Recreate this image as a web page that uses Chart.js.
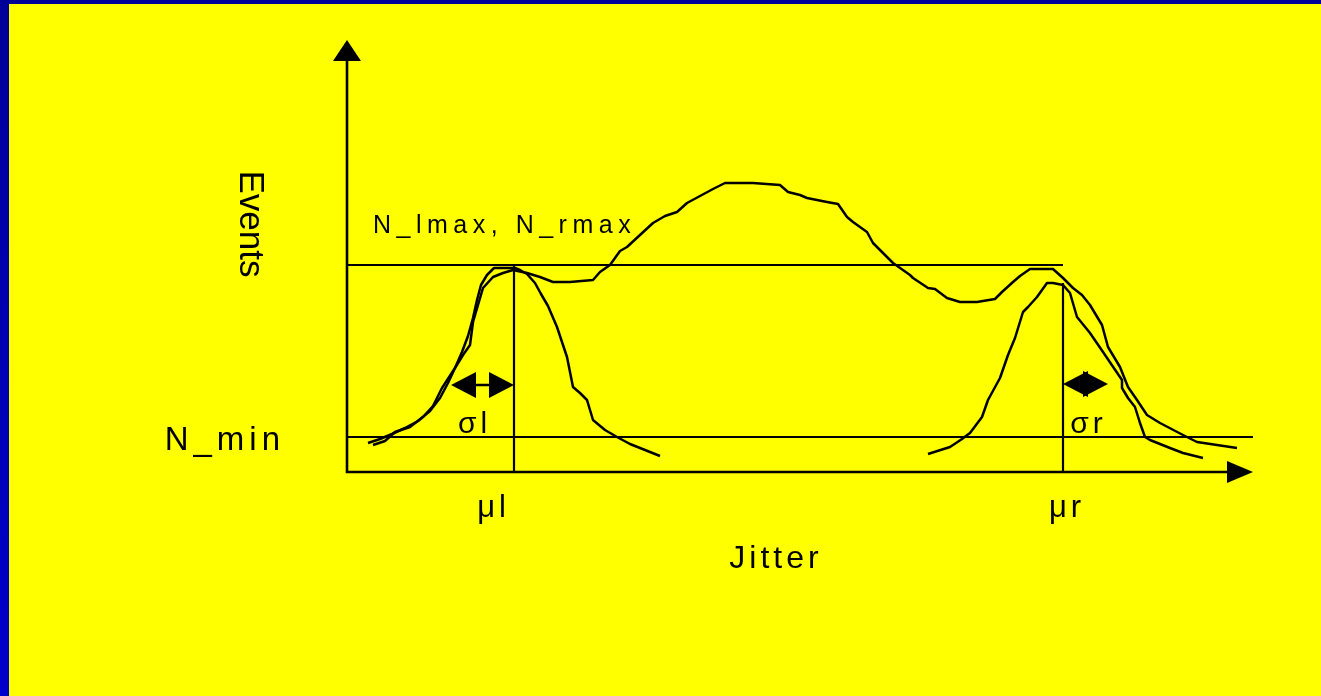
<!DOCTYPE html>
<html>
<head>
<meta charset="utf-8">
<script src="https://cdn.jsdelivr.net/npm/chart.js@4"></script>
<style>
    html, body { margin: 0; padding: 0; }
    body { width: 1321px; height: 696px; overflow: hidden; position: relative; background: linear-gradient(#000099, #0000cc); }
    #slide { position: absolute; left: 9px; top: 4px; width: 1312px; height: 692px; background: #ffff00; }
    canvas { display: block; }
</style>
</head>
<body>
<div id="slide"><canvas id="chart" width="1312" height="692"></canvas></div>
<script>
// combined histogram (both edges)
const sumJitter = [2.6, 3.8, 4.8, 6.3, 7.6, 8.6, 9.5, 10.8, 11.6, 12.3, 12.6, 13.1, 13.6, 14.6, 15.6, 16.6,
    18.0, 19.3, 20.6, 22.3, 24.6, 25.3, 26.3, 27.3, 28.0, 29.3, 30.6, 31.8, 33.0, 34.0, 35.3, 36.6, 37.8,
    40.6, 43.3, 44.1, 45.3, 46.0, 48.0, 49.1, 50.0, 50.6, 52.0, 52.6, 54.0, 54.6, 56.3, 56.6, 58.1, 58.8,
    60.0, 61.3, 63.0, 64.8, 65.5, 66.6, 67.3, 68.3, 70.6, 71.6, 72.6, 73.5, 74.3, 75.5, 76.1, 77.3, 78.1,
    79.0, 80.0, 81.3, 83.6, 85.0, 87.0, 89.0];
const sumEvents = [13.5, 15.5, 20, 22.5, 27.5, 33, 42, 52, 58.5, 63.5, 75, 83.5, 92, 97.5, 99.5, 101,
    99.5, 97.5, 95, 95, 96, 100, 103.5, 110.5, 112.5, 118.5, 124.5, 128, 130, 134.5, 138, 141.5, 144.5,
    144.5, 143.5, 140, 138.5, 137, 135, 134, 127.5, 125, 120, 114.5, 107.5, 104.5, 98.5, 97, 92, 91.5,
    87, 85, 85, 86.5, 90, 95, 98, 101.5, 101.5, 97, 92, 88.5, 83.5, 73.5, 62.5, 52.5, 42.5,
    36, 28.5, 24.5, 18.5, 15, 13.5, 12];

// left edge only
const leftJitter = [2.1, 3.3, 4.5, 5.8, 7.1, 8.3, 9.3, 10.1, 10.8, 11.5, 12.1, 12.6, 13.0, 13.4, 14.0, 14.7,
    16.8, 17.3, 18.0, 18.8, 19.4, 20.1, 21.0, 21.5, 22.0, 22.6, 23.3, 24.0, 24.6, 25.8, 27.0, 28.3, 29.8, 31.3];
const leftEvents = [14.5, 16.5, 19, 22, 25.5, 30.5, 37, 44.5, 52, 60, 68, 77, 86, 93.5, 98.5, 102,
    102, 101, 99, 94.5, 89, 83, 72.5, 65, 57.5, 42.5, 39.5, 36, 26, 21, 17.5, 14, 11, 8];

// right edge only
const rightJitter = [58.1, 60.3, 61.5, 62.3, 63.5, 64.1, 65.3, 66.1, 66.8, 67.6, 68.1, 69.0, 70.0, 70.6,
    71.6, 72.3, 73.0, 74.3, 75.6, 77.5, 77.5, 78.1, 78.8, 79.3, 79.8, 80.3, 82.3, 83.6, 85.6];
const rightEvents = [9, 12.5, 16.5, 19.5, 27.5, 36, 47, 58.5, 67, 80, 82.5, 87.5, 94.5, 94.5,
    93.5, 89.5, 77.5, 69.5, 60, 46, 42, 37, 32.5, 24.5, 17.5, 16, 12, 9.5, 7];

const jitterMax = 90.6;
const eventsMax = 216;
const nLRMax = 103.5;
const nMin = 17.5;
const muL = 16.7;
const muR = 71.6;
const rightPeak = 94.5;
const sigmaL = 6.3;
const sigmaR = 4.5;
const sigmaLevel = 43.5;

const FONT = '"Liberation Sans", Arial, sans-serif';

function points(xs, ys) {
    return xs.map((x, i) => ({x: x, y: ys[i]}));
}

function lineSet(data, width) {
    return {
        data: data,
        borderColor: "black",
        borderWidth: width,
        borderJoinStyle: "round",
        pointRadius: 0,
        tension: 0,
        fill: false
    };
}

// text with extra space between letters, like the slide
function spacedText(ctx, text, x, y, spacing, align) {
    let total = 0;
    for (const ch of text) total += ctx.measureText(ch).width;
    total += spacing * (text.length - 1);
    let cx = x;
    if (align === "center") cx = x - total / 2;
    if (align === "right") cx = x - total;
    ctx.textAlign = "left";
    for (const ch of text) {
        ctx.fillText(ch, cx, y);
        cx += ctx.measureText(ch).width + spacing;
    }
}

function head(ctx, tx, ty, dir, len, wid) {
    ctx.beginPath();
    ctx.moveTo(tx, ty);
    if (dir === "right") { ctx.lineTo(tx - len, ty - wid / 2); ctx.lineTo(tx - len, ty + wid / 2); }
    if (dir === "left") { ctx.lineTo(tx + len, ty - wid / 2); ctx.lineTo(tx + len, ty + wid / 2); }
    if (dir === "up") { ctx.lineTo(tx - wid / 2, ty + len); ctx.lineTo(tx + wid / 2, ty + len); }
    ctx.closePath();
    ctx.fill();
}

function doubleArrow(ctx, x1, x2, y) {
    ctx.beginPath();
    ctx.moveTo(x1 + 5, y);
    ctx.lineTo(x2 - 5, y);
    ctx.stroke();
    head(ctx, x1, y, "left", 25, 26);
    head(ctx, x2, y, "right", 25, 26);
}

const sketch = {
    id: "sketch",
    afterDatasetsDraw(chart) {
        const ctx = chart.ctx;
        const X = v => chart.scales.x.getPixelForValue(v);
        const Y = v => chart.scales.y.getPixelForValue(v);
        ctx.save();
        ctx.strokeStyle = "black";
        ctx.fillStyle = "black";

        // axes with arrows
        ctx.lineWidth = 2.6;
        ctx.beginPath();
        ctx.moveTo(X(0) - 1.3, Y(0));
        ctx.lineTo(X(jitterMax) - 20, Y(0));
        ctx.moveTo(X(0), Y(0) + 1.3);
        ctx.lineTo(X(0), Y(eventsMax) + 18);
        ctx.stroke();
        head(ctx, X(jitterMax), Y(0), "right", 26, 22);
        head(ctx, X(0), Y(eventsMax), "up", 21, 28);

        // sigma arrows
        doubleArrow(ctx, X(muL - sigmaL), X(muL), Y(sigmaLevel));
        doubleArrow(ctx, X(muR), X(muR + sigmaR), Y(sigmaLevel + 0.5));

        // labels
        ctx.textBaseline = "alphabetic";
        ctx.font = "25px " + FONT;
        spacedText(ctx, "N_lmax, N_rmax", X(0) + 26, Y(nLRMax) - 32.5, 5.5, "left");
        ctx.font = "33px " + FONT;
        spacedText(ctx, "N_min", X(0) - 67, Y(nMin) + 13, 5, "right");
        ctx.font = "32px " + FONT;
        spacedText(ctx, "Jitter", X(0) + 427, Y(0) + 96, 4, "center");
        ctx.font = "31px " + FONT;
        spacedText(ctx, "\u03bcl", X(muL) - 22.5, Y(0) + 45, 4, "center");
        spacedText(ctx, "\u03bcr", X(muR) + 2, Y(0) + 45, 4, "center");
        ctx.font = "30px " + FONT;
        spacedText(ctx, "\u03c3l", X(muL) - 41.5, Y(nMin) - 4, 4, "center");
        spacedText(ctx, "\u03c3r", X(muR) + 23.5, Y(nMin) - 4, 4, "center");

        ctx.save();
        ctx.translate(X(0) - 107, Y(0) - 248);
        ctx.rotate(Math.PI / 2);
        ctx.font = "35px " + FONT;
        ctx.textAlign = "center";
        ctx.fillText("Events", 0, 0);
        ctx.restore();

        ctx.restore();
    }
};

const chart = new Chart(document.getElementById("chart"), {
    type: "line",
    data: {
        datasets: [
            lineSet(points(sumJitter, sumEvents), 2.5),
            lineSet(points(leftJitter, leftEvents), 2.5),
            lineSet(points(rightJitter, rightEvents), 2.5),
            lineSet([{x: 0, y: nLRMax}, {x: muR, y: nLRMax}], 2),
            lineSet([{x: 0, y: nMin}, {x: jitterMax, y: nMin}], 2),
            lineSet([{x: muL, y: 0}, {x: muL, y: nLRMax}], 2.2),
            lineSet([{x: muR, y: 0}, {x: muR, y: rightPeak}], 2.2)
        ]
    },
    options: {
        responsive: false,
        animation: false,
        layout: {
            padding: {left: 338, top: 36, right: 68, bottom: 224}
        },
        scales: {
            x: {type: "linear", min: 0, max: jitterMax, display: false},
            y: {type: "linear", min: 0, max: eventsMax, display: false}
        },
        plugins: {
            legend: {display: false},
            tooltip: {enabled: false}
        }
    },
    plugins: [sketch]
});
</script>
</body>
</html>
